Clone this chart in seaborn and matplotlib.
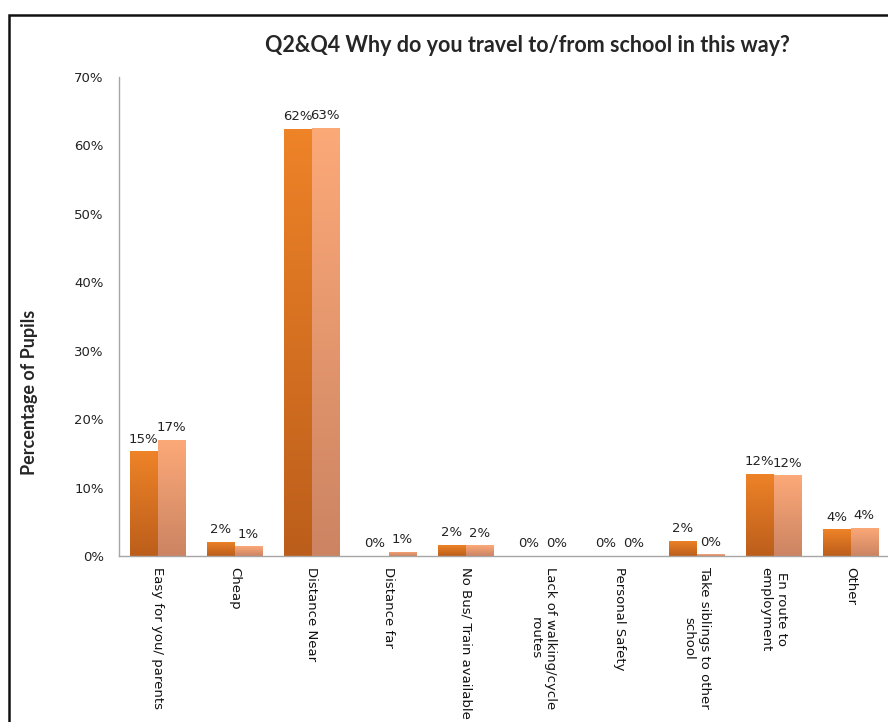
import numpy as np
import pandas as pd
import matplotlib
matplotlib.use('Agg')
import matplotlib.pyplot as plt
from matplotlib.patches import Rectangle
import seaborn as sns

categories = ['Easy for you/ parents', 'Cheap', 'Distance Near', 'Distance far',
              'No Bus/ Train available', 'Lack of walking/cycle\nroutes', 'Personal Safety',
              'Take siblings to other\nschool', 'En route to\nemployment', 'Other']
series_names = ['Q2', 'Q4']
q2_values = [15.3, 2.1, 62.4, 0.0, 1.6, 0.0, 0.0, 2.2, 12.0, 3.9]
q4_values = [17.0, 1.4, 62.6, 0.6, 1.55, 0.0, 0.0, 0.25, 11.8, 4.1]
y_ticks = [0, 10, 20, 30, 40, 50, 60, 70]

# gradient colours (top, bottom) for each series
grad_colors = {
    'Q2': ((238 / 255, 131 / 255, 40 / 255), (188 / 255, 94 / 255, 27 / 255)),
    'Q4': ((252 / 255, 169 / 255, 120 / 255), (204 / 255, 132 / 255, 98 / 255)),
}

df = pd.DataFrame({
    'category': categories * 2,
    'series': [series_names[0]] * len(categories) + [series_names[1]] * len(categories),
    'value': q2_values + q4_values,
})

sns.set_style('white')
plt.rcParams['font.family'] = ['DejaVu Sans']

fig = plt.figure(figsize=(8.88, 7.22), dpi=100)
W, H = 888, 722
ax = fig.add_axes([119 / W, (H - 556) / H, 770 / W, 479 / H])

sns.barplot(data=df, x='category', y='value', hue='series', order=categories,
            hue_order=series_names, palette=['#D9701F', '#E8966A'],
            width=0.72, gap=0, ax=ax, legend=False, saturation=1)

ax.set_xlim(-0.5, len(categories) - 0.5)
ax.set_ylim(0, 70)
ax.set_yticks(y_ticks)
ax.set_yticklabels([f'{t}%' for t in y_ticks], fontsize=9.5, color='#222222')
ax.tick_params(axis='y', length=0, pad=11)
ax.tick_params(axis='x', length=0, pad=8)
ax.set_xticks(range(len(categories)))
ax.set_xticklabels(categories, rotation=270, fontsize=9.5, va='top', ha='center',
                   rotation_mode='default', multialignment='center', color='#111111')
ax.set_xlabel('')
ax.set_ylabel('')
for s in ['top', 'right']:
    ax.spines[s].set_visible(False)
for s in ['left', 'bottom']:
    ax.spines[s].set_color('#A6A6A6')
    ax.spines[s].set_linewidth(1.0)

# gradient fill for each bar
grad = np.linspace(0, 1, 64).reshape(-1, 1)
for container, name in zip(ax.containers, series_names):
    top, bottom = grad_colors[name]
    img = np.zeros((64, 1, 3))
    for c in range(3):
        img[:, 0, c] = top[c] + (bottom[c] - top[c]) * grad[:, 0]
    for bar in container:
        x0, y0 = bar.get_x(), bar.get_y()
        w, h = bar.get_width(), bar.get_height()
        if h <= 0:
            continue
        bar.set_facecolor('none')
        bar.set_edgecolor('none')
        im = ax.imshow(img, extent=[x0, x0 + w, y0, y0 + h], aspect='auto',
                       origin='upper', zorder=bar.get_zorder(), interpolation='bilinear')
        im.set_clip_path(bar)
    ax.bar_label(container, labels=[f'{v:.0f}%' for v in container.datavalues],
                 padding=4, fontsize=9.5, color='#222222')

ax.set_xlim(-0.5, len(categories) - 0.5)
ax.set_ylim(0, 70)

fig.text(527 / W, 1 - 45 / H, 'Q2&Q4 Why do you travel to/from school in this way?',
         ha='center', va='center', fontsize=15.5, fontweight='bold', family=['Lato', 'DejaVu Sans'])
fig.text(30 / W, 1 - 392 / H, 'Percentage of Pupils', rotation=90, ha='center', va='center',
         fontsize=13, fontweight='bold', family=['Lato', 'DejaVu Sans'])

# outer chart frame
fig.patches.append(Rectangle((9 / W, -0.1), 1.2, 1 - 15 / H + 0.1, transform=fig.transFigure,
                             fill=False, edgecolor='#111111', linewidth=1.8))

fig.savefig('out.png', dpi=100)
